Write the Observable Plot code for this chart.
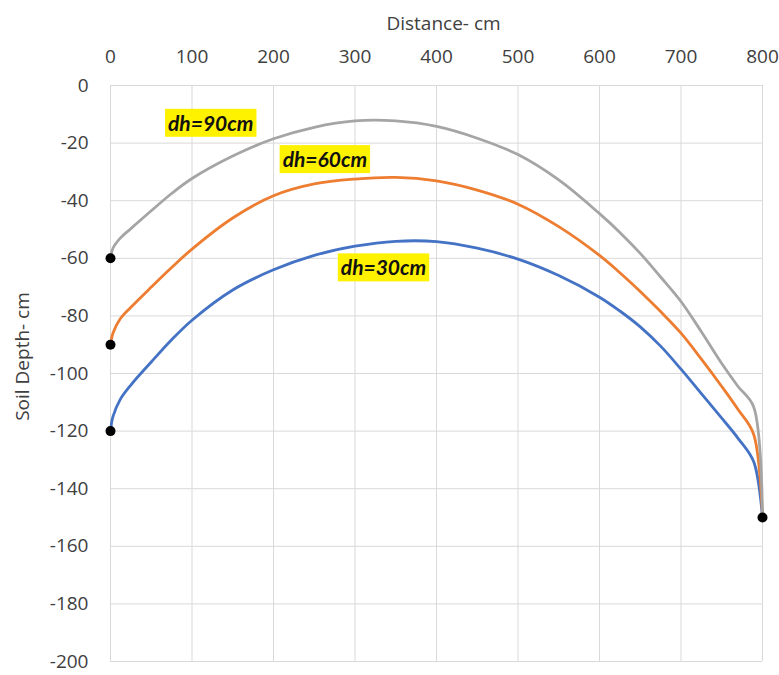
<!DOCTYPE html>
<html>
<head>
<meta charset="utf-8">
<script src="https://cdn.jsdelivr.net/npm/d3@7"></script>
<script src="https://cdn.jsdelivr.net/npm/@observablehq/plot@0.6"></script>
<style>
  html, body { margin: 0; padding: 0; background: #fff; }
  #chart svg { display: block; }
</style>
</head>
<body>
<div id="chart"></div>
<script>
// Distance along the section (cm)
const distance = [0, 3, 12, 25, 50, 75, 100, 150, 200, 250, 300, 350, 400, 450, 500, 550, 600, 625, 650, 675, 700, 725, 750, 770, 789, 800];

// Free-surface depth (cm) for each head difference
const dh30 = [-120, -115, -109, -104, -96, -88.3, -81.5, -71, -64, -59, -55.8, -54.1, -54.2, -56.5, -60.3, -66, -73.5, -78.3, -83.8, -90.5, -98.5, -107, -115.5, -122.5, -130.5, -150];
const dh60 = [-90, -86, -81, -77, -70, -63.2, -56.8, -46, -38.3, -34.2, -32.5, -31.9, -33.1, -36.3, -41.2, -49, -59, -65, -71.5, -78.5, -86, -95, -104.5, -112.5, -121, -150];
const dh90 = [-60, -56.5, -53, -49.7, -43.5, -37.5, -32.3, -24.5, -18.5, -14.5, -12.3, -12.3, -14.2, -18.3, -24, -32.8, -44.5, -51, -58.3, -66.5, -75, -85.5, -96.5, -104.5, -111.5, -150];

const seriesNames = ["dh=30cm", "dh=60cm", "dh=90cm"];
const seriesColors = ["#4472C4", "#ED7D31", "#A5A5A5"];
const seriesValues = [dh30, dh60, dh90];

// Curve labels and where they sit
const labelText = ["dh=90cm", "dh=60cm", "dh=30cm"];
const labelX = [123, 263, 335];
const labelY = [-13.4, -26, -63.6];

const xTicks = [0, 100, 200, 300, 400, 500, 600, 700, 800];
const yTicks = [0, -20, -40, -60, -80, -100, -120, -140, -160, -180, -200];

const rows = seriesNames.flatMap((name, i) =>
  distance.map((d, j) => ({series: name, distance: d, depth: seriesValues[i][j]}))
);

// Fixed points: start of each curve and the common end point
const anchors = seriesValues.map(v => ({distance: distance[0], depth: v[0]}))
  .concat([{distance: distance[distance.length - 1], depth: dh30[dh30.length - 1]}]);

const labels = labelText.map((t, i) => ({text: t, x: labelX[i], y: labelY[i]}));

const axisFont = "'Open Sans', 'Noto Sans', sans-serif";

const chart = Plot.plot({
  width: 779,
  height: 675,
  marginLeft: 110,
  marginRight: 17,
  marginTop: 85,
  marginBottom: 14,
  style: {fontFamily: axisFont, fontSize: "19px", color: "#404040", background: "#fff"},
  x: {domain: [0, 800]},
  y: {domain: [-200, 0]},
  color: {domain: seriesNames, range: seriesColors},
  marks: [
    Plot.gridX(xTicks, {stroke: "#d9d9d9", strokeOpacity: 1, strokeWidth: 1}),
    Plot.gridY(yTicks, {stroke: "#d9d9d9", strokeOpacity: 1, strokeWidth: 1}),
    Plot.axisX(xTicks, {anchor: "top", tickSize: 0, tickPadding: 23, label: null, fill: "#404040"}),
    Plot.axisY(yTicks, {anchor: "left", tickSize: 0, tickPadding: 22, label: null, tickFormat: d => `${d}`, fill: "#404040"}),
    Plot.line(rows, {x: "distance", y: "depth", z: "series", stroke: "series", strokeWidth: 2.8, curve: "catmull-rom"}),
    Plot.dot(anchors, {x: "distance", y: "depth", r: 5, fill: "black"}),
    Plot.text(labels, {
      x: "x", y: "y", text: "text",
      fontFamily: "Lato, sans-serif", fontWeight: "bold", fontStyle: "italic",
      fontSize: 21, fill: "#111"
    }),
    Plot.text(["Distance- cm"], {frameAnchor: "top", textAnchor: "middle", lineAnchor: "middle", dy: -62, dx: 7, fontSize: 19, fill: "#404040"}),
    Plot.text(["Soil Depth- cm"], {frameAnchor: "left", textAnchor: "middle", lineAnchor: "middle", rotate: -90, dx: -88, dy: -17, fontSize: 19, fill: "#404040"})
  ]
});

document.getElementById("chart").appendChild(chart);

// Yellow highlight boxes behind the curve labels
chart.querySelectorAll("text").forEach(t => {
  if (!labelText.includes(t.textContent)) return;
  const b = t.getBBox();
  const ns = "http://www.w3.org/2000/svg";
  const r = document.createElementNS(ns, "rect");
  r.setAttribute("x", b.x - 3);
  r.setAttribute("y", b.y - 1);
  r.setAttribute("width", b.width + 6);
  r.setAttribute("height", b.height + 3);
  r.setAttribute("fill", "#FFF200");
  const ctm = t.getAttribute("transform");
  if (ctm) r.setAttribute("transform", ctm);
  t.parentNode.insertBefore(r, t);
});
</script>
</body>
</html>
